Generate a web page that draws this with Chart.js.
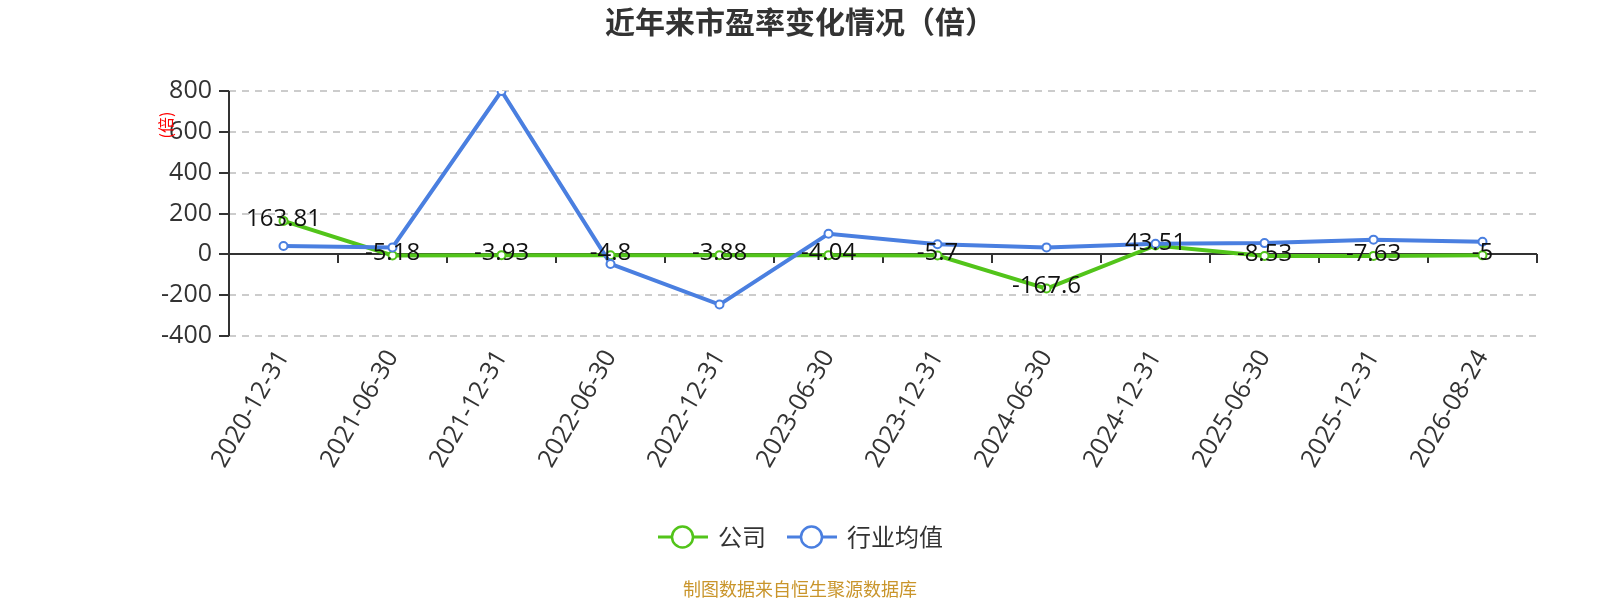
<!DOCTYPE html>
<html>
<head>
<meta charset="utf-8">
<script src="https://cdn.jsdelivr.net/npm/chart.js@4.4.1/dist/chart.umd.min.js"></script>
<style>
html,body{margin:0;padding:0;background:#fff;}
#wrap{width:1600px;height:600px;position:relative;}
canvas{display:block;}
</style>
</head>
<body>
<div id="wrap"><canvas id="c" width="1600" height="600"></canvas></div>
<script>
const categories = ['2020-12-31','2021-06-30','2021-12-31','2022-06-30','2022-12-31','2023-06-30','2023-12-31','2024-06-30','2024-12-31','2025-06-30','2025-12-31','2026-08-24'];
const companyPE = [163.81,-5.18,-3.93,-4.8,-3.88,-4.04,-5.7,-167.6,43.51,-8.53,-7.63,-5];
const industryPE = [41,34,800,-47,-246,101,49,34,52,55,72,62];
const yTicks = [-400,-200,0,200,400,600,800];
const titleText = '近年来市盈率变化情况（倍）';
const yAxisName = '(倍)';
const footerText = '制图数据来自恒生聚源数据库';

const FONT = '"Noto Sans CJK SC","Noto Sans",sans-serif';
const NUMFONT = '"Open Sans","Noto Sans CJK SC",sans-serif';
const GREEN = '#52c41a';
const BLUE = '#4a7fe0';

const decor = {
  id:'decor',
  beforeDatasetsDraw(chart){
    const ctx = chart.ctx, a = chart.chartArea;
    const y = chart.scales.y;
    ctx.save();
    ctx.strokeStyle = '#333';
    ctx.lineWidth = 2;
    ctx.setLineDash([]);
    ctx.beginPath();
    ctx.moveTo(a.left, a.top); ctx.lineTo(a.left, a.bottom); ctx.stroke();
    yTicks.forEach(v=>{
      const py = Math.round(y.getPixelForValue(v));
      ctx.beginPath(); ctx.moveTo(a.left-10, py); ctx.lineTo(a.left, py); ctx.stroke();
    });
    const zy = Math.round(y.getPixelForValue(0));
    ctx.beginPath(); ctx.moveTo(a.left, zy); ctx.lineTo(a.right, zy); ctx.stroke();
    const step = (a.right - a.left)/categories.length;
    for(let i=1;i<=categories.length;i++){
      const px = Math.round(a.left + step*i);
      ctx.beginPath(); ctx.moveTo(px, zy); ctx.lineTo(px, zy+9); ctx.stroke();
    }
    ctx.restore();
  },
  afterDatasetsDraw(chart){
    const ctx = chart.ctx;
    const meta = chart.getDatasetMeta(0);
    ctx.save();
    ctx.font = '24px ' + NUMFONT;
    ctx.fillStyle = '#111';
    ctx.textAlign = 'center';
    ctx.textBaseline = 'middle';
    meta.data.forEach((pt,i)=>{
      ctx.fillText(String(companyPE[i]), pt.x, pt.y-2);
    });
    ctx.restore();
  },
  afterDraw(chart){
    const ctx = chart.ctx;
    ctx.save();
    ctx.font = 'bold 30px ' + FONT;
    ctx.fillStyle = '#333';
    ctx.textAlign = 'center';
    ctx.textBaseline = 'middle';
    ctx.fillText(titleText, 800, 22);
    ctx.save();
    ctx.translate(166, 125);
    ctx.rotate(-Math.PI/2);
    ctx.font = '16px ' + FONT;
    ctx.fillStyle = '#ff0000';
    ctx.fillText(yAxisName, 0, 0);
    ctx.restore();
    const items = [
      {ds:chart.data.datasets[0], x0:658},
      {ds:chart.data.datasets[1], x0:787}
    ];
    const ly = 537;
    items.forEach(it=>{
      ctx.strokeStyle = it.ds.borderColor;
      ctx.lineWidth = 3;
      ctx.beginPath(); ctx.moveTo(it.x0, ly); ctx.lineTo(it.x0+50, ly); ctx.stroke();
      ctx.beginPath(); ctx.arc(it.x0+24.5, ly, 10.5, 0, Math.PI*2);
      ctx.fillStyle = '#fff'; ctx.fill();
      ctx.lineWidth = 2.5; ctx.stroke();
      ctx.font = '24px ' + FONT;
      ctx.fillStyle = '#333';
      ctx.textAlign = 'left';
      ctx.fillText(it.ds.label, it.x0+60, ly);
    });
    ctx.font = '18px ' + FONT;
    ctx.fillStyle = '#c9952b';
    ctx.textAlign = 'center';
    ctx.fillText(footerText, 800, 589);
    ctx.restore();
  }
};

new Chart(document.getElementById('c'), {
  type:'line',
  data:{
    labels:categories,
    datasets:[
      {label:'公司', data:companyPE, borderColor:GREEN, backgroundColor:'#fff', borderWidth:4,
       pointRadius:4, pointBorderWidth:2, pointBackgroundColor:'#fff', pointBorderColor:GREEN, tension:0, order:1},
      {label:'行业均值', data:industryPE, borderColor:BLUE, backgroundColor:'#fff', borderWidth:4,
       pointRadius:4, pointBorderWidth:2, pointBackgroundColor:'#fff', pointBorderColor:BLUE, tension:0, order:0}
    ]
  },
  options:{
    responsive:false,
    animation:false,
    devicePixelRatio:1,
    layout:{padding:{top:91,right:63,bottom:0,left:0}},
    plugins:{legend:{display:false}, title:{display:false}, tooltip:{enabled:false}},
    scales:{
      x:{
        offset:true,
        grid:{display:false, drawTicks:false},
        border:{display:false},
        ticks:{font:{size:25,family:NUMFONT}, color:'#333', maxRotation:60, minRotation:60, padding:9, autoSkip:false},
        afterFit(s){ s.height = 264; }
      },
      y:{
        min:-400, max:800,
        afterBuildTicks(s){ s.ticks = yTicks.map(v=>({value:v})); },
        grid:{color:'#cccccc', lineWidth:2, drawTicks:false},
        border:{display:false, dash:[7,6]},
        ticks:{font:{size:25,family:NUMFONT}, color:'#333', padding:17},
        afterFit(s){ s.width = 229; }
      }
    }
  },
  plugins:[decor]
});
</script>
</body>
</html>
